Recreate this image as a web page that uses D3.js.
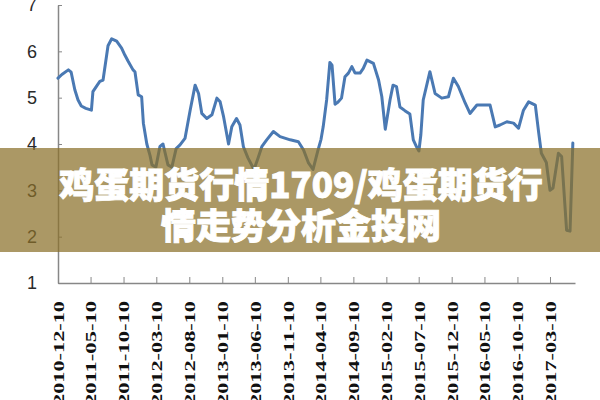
<!DOCTYPE html>
<html><head><meta charset="utf-8">
<script src="https://cdn.jsdelivr.net/npm/d3@7"></script>
<style>body{margin:0;background:#fff;}svg{display:block}</style>
</head><body>
<svg id="chart" width="600" height="400"></svg>
<script>
const dates = ["2010-12-10","2010-12-28","2011-01-27","2011-02-09","2011-02-26","2011-03-13","2011-03-28","2011-04-18","2011-05-14","2011-05-21","2011-06-07","2011-06-22","2011-07-07","2011-07-30","2011-08-16","2011-09-08","2011-10-01","2011-10-16","2011-11-01","2011-11-23","2011-12-02","2011-12-17","2012-01-02","2012-01-10","2012-01-26","2012-02-10","2012-02-19","2012-03-08","2012-03-27","2012-04-10","2012-05-03","2012-05-21","2012-06-10","2012-06-28","2012-07-21","2012-08-14","2012-09-06","2012-09-22","2012-10-07","2012-10-30","2012-11-23","2012-12-16","2012-12-31","2013-01-16","2013-02-08","2013-02-23","2013-03-17","2013-04-02","2013-04-18","2013-05-09","2013-06-06","2013-06-25","2013-07-13","2013-08-04","2013-09-04","2013-10-05","2013-11-21","2013-12-29","2014-01-22","2014-02-13","2014-03-07","2014-03-29","2014-04-13","2014-04-23","2014-05-09","2014-05-24","2014-06-03","2014-06-17","2014-06-30","2014-07-17","2014-08-02","2014-08-18","2014-09-03","2014-09-18","2014-10-11","2014-10-26","2014-11-12","2014-12-12","2015-01-05","2015-01-20","2015-02-05","2015-02-27","2015-03-13","2015-03-29","2015-04-14","2015-05-07","2015-05-30","2015-06-15","2015-06-30","2015-07-11","2015-07-20","2015-07-31","2015-08-31","2015-09-24","2015-10-25","2015-11-25","2015-12-18","2016-01-10","2016-02-11","2016-03-04","2016-04-05","2016-06-05","2016-06-29","2016-07-21","2016-08-22","2016-09-22","2016-10-15","2016-11-07","2016-12-01","2017-01-01","2017-01-17","2017-01-29","2017-02-21","2017-03-10","2017-03-24","2017-04-18","2017-05-03","2017-05-26","2017-06-11","2017-06-24"];
const prices = [5.42,5.5,5.6,5.55,5.17,4.95,4.82,4.77,4.73,5.13,5.25,5.35,5.38,6.12,6.27,6.22,6.07,5.92,5.78,5.6,5.56,5.06,5.02,4.45,4.0,3.75,3.55,3.5,3.95,4.0,3.55,3.5,3.9,3.98,4.12,4.73,5.27,5.09,4.66,4.55,4.63,4.99,4.91,4.59,4.0,4.37,4.55,4.41,3.94,3.7,3.45,3.7,3.95,4.09,4.27,4.16,4.09,4.05,3.87,3.6,3.45,3.85,4.1,4.37,4.95,5.76,5.7,4.86,4.9,4.99,5.45,5.53,5.67,5.53,5.53,5.63,5.81,5.74,5.38,5.02,4.32,4.95,5.27,5.24,4.8,4.72,4.65,4.09,3.94,3.85,4.2,4.95,5.56,5.09,4.99,5.02,5.42,5.24,4.88,4.66,4.84,4.84,4.37,4.41,4.48,4.45,4.34,4.73,4.91,4.84,4.23,3.8,3.6,3.0,3.05,3.8,3.73,2.14,2.12,4.02];
const yTicks = [1,2,3,4,5,6,7];
const xTickLabels = ["2010-12-10","2011-05-10","2011-10-10","2012-03-10","2012-08-10","2013-01-10","2013-06-10","2013-11-10","2014-04-10","2014-09-10","2015-02-10","2015-07-10","2015-12-10","2016-05-10","2016-10-10","2017-03-10"];
const xDomain = ["2010-12-10","2017-07-04"];
const titleLines = ["鸡蛋期货行情1709/鸡蛋期货行","情走势分析金投网"];

const parse = d3.timeParse("%Y-%m-%d");
const fmt = d3.timeFormat("%Y-%m-%d");
const svg = d3.select("#chart");
const x = d3.scaleTime().domain(xDomain.map(parse)).range([58, 575]);
const y = d3.scaleLinear().domain([1, 7]).range([283, 5]);
const axisColor = "#878787";

// y axis
const gy = svg.append("g").attr("transform","translate(58,0)")
  .call(d3.axisLeft(y).tickValues(yTicks).tickSizeInner(-4).tickSizeOuter(0).tickPadding(21).tickFormat(d3.format("d")));
gy.select(".domain").attr("stroke", axisColor).attr("stroke-width",1.5);
gy.selectAll(".tick line").attr("stroke", axisColor);
gy.selectAll(".tick text").attr("fill","#2a2a2a").style("font-family","'Liberation Sans', Arial, sans-serif").style("font-size","18px");

// x axis
const gx = svg.append("g").attr("transform","translate(0,283)")
  .call(d3.axisBottom(x).tickValues(xTickLabels.map(parse)).tickSizeInner(-6).tickSizeOuter(0).tickFormat(fmt));
gx.select(".domain").attr("stroke", axisColor).attr("stroke-width",1.5);
gx.selectAll(".tick line").attr("stroke", axisColor);
gx.selectAll(".tick text")
  .attr("transform","rotate(-90)")
  .attr("x",-18).attr("y",0).attr("dy","0.36em")
  .attr("text-anchor","end")
  .attr("textLength",104).attr("lengthAdjust","spacingAndGlyphs")
  .attr("fill","#111")
  .style("font-family","'Liberation Serif', 'Times New Roman', serif")
  .style("font-weight","bold").style("font-size","15px");

// line
const data = dates.map((d,i)=>({date: parse(d), value: prices[i]}));
svg.append("path").datum(data)
  .attr("fill","none").attr("stroke","#4a79b3").attr("stroke-width",3)
  .attr("stroke-linejoin","round").attr("stroke-linecap","round")
  .attr("d", d3.line().x(d=>x(d.date)).y(d=>y(d.value)));

// banner overlay
svg.append("rect").attr("x",0).attr("y",148).attr("width",600).attr("height",104)
  .attr("fill","rgb(138,112,42)").attr("fill-opacity",0.72);
svg.selectAll("text.title").data(titleLines).enter().append("text")
  .attr("class","title")
  .attr("x",301).attr("y",(d,i)=>198+i*41)
  .attr("text-anchor","middle")
  .attr("fill","#fff").attr("stroke","#fff").attr("stroke-width",0.9)
  .style("font-family","'Noto Sans CJK SC', sans-serif")
  .style("font-weight","900").style("font-size","35px")
  .text(d=>d);
</script>
</body></html>
